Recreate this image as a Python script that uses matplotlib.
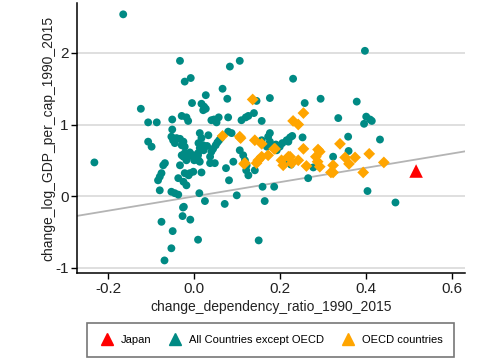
import numpy as np
import matplotlib
matplotlib.use("Agg")
import matplotlib.pyplot as plt
from matplotlib.lines import Line2D

plt.rcParams['font.family'] = ['Liberation Sans', 'DejaVu Sans']

# All countries except OECD: (change_dependency_ratio, change_log_GDP_per_cap)
other_x = [-0.165, -0.232, 0.397, -0.033, 0.083, 0.106, -0.022, -0.008, 0.230, 0.066,
           0.077, 0.027, -0.124, -0.005, 0.017, 0.023, 0.027, 0.021, 0.145, 0.176,
           0.257, 0.294, 0.378, 0.335, 0.400, 0.409, 0.413, 0.395, 0.139, 0.157,
           0.110, 0.120, 0.126, 0.079, 0.057, 0.046, 0.040, 0.052, -0.107, -0.087,
           -0.051, -0.029, -0.018, -0.014, -0.051,
           -0.107, -0.099, -0.053, -0.049, -0.041, -0.033, -0.025, -0.029, -0.022, -0.045,
           0.013, 0.017, 0.010, 0.021, 0.013, 0.033, -0.022, -0.014, -0.025, -0.018,
           -0.002, 0.009, 0.006, 0.013, 0.037, 0.040, 0.044, 0.050, 0.054, 0.058,
           0.062, 0.048, 0.079, 0.087, 0.091, 0.074, 0.106, 0.114, 0.118, 0.122,
           0.121, 0.126, 0.141, 0.176, 0.180, 0.192, 0.199, 0.215, 0.219, 0.176,
           0.172, 0.223, 0.228, 0.252, 0.358, 0.432, 0.359, 0.323, 0.225, 0.277,
           0.265, 0.211,
           -0.068, -0.072, -0.076, -0.080, -0.084, -0.033, -0.022, -0.010, -0.002, -0.037,
           -0.025, -0.018, -0.013, 0.017, 0.081, -0.080, -0.053, -0.045, -0.037, 0.012,
           0.025, 0.071, 0.099, 0.159, 0.186, 0.164, 0.403, 0.468, -0.076, -0.050,
           -0.053, -0.069, -0.026, -0.027, -0.009, 0.009, 0.150, 0.000, 0.010, 0.037,
           -0.024, -0.029, -0.010, 0.002, 0.009, 0.022, 0.030, 0.157, 0.169, 0.190,
           0.205, 0.218]
other_y = [2.54, 0.47, 2.03, 1.89, 1.81, 1.89, 1.60, 1.65, 1.64, 1.50,
           1.36, 1.41, 1.22, 1.30, 1.29, 1.25, 1.22, 1.20, 1.33, 1.37,
           1.30, 1.36, 1.32, 1.09, 1.11, 1.07, 1.05, 1.01, 1.16, 1.05,
           1.06, 1.10, 1.12, 1.10, 1.10, 1.07, 1.06, 1.03, 1.03, 1.03,
           1.07, 1.12, 1.10, 1.05, 0.93,
           0.76, 0.69, 0.83, 0.78, 0.81, 0.80, 0.76, 0.71, 0.69, 0.74,
           0.88, 0.81, 0.74, 0.71, 0.67, 0.85, 0.60, 0.55, 0.55, 0.50,
           0.57, 0.60, 0.53, 0.48, 0.55, 0.62, 0.66, 0.71, 0.75, 0.78,
           0.81, 0.46, 0.90, 0.88, 0.48, 0.39, 0.64, 0.57, 0.50, 0.43,
           0.36, 0.29, 0.36, 0.76, 0.69, 0.64, 0.69, 0.78, 0.76, 0.88,
           0.83, 0.82, 0.84, 0.82, 0.83, 0.79, 0.63, 0.55, 0.44, 0.40,
           0.25, 0.48,
           0.46, 0.43, 0.32, 0.27, 0.22, 0.43, 0.32, 0.32, 0.34, 0.25,
           0.20, 0.15, 0.29, 0.33, 0.22, 0.08, 0.06, 0.04, 0.02, 0.04,
           -0.07, -0.11, 0.01, 0.13, 0.13, -0.07, 0.07, -0.09, -0.36, -0.49,
           -0.73, -0.90, -0.16, -0.28, -0.33, -0.61, -0.62, 0.50, 0.50, 0.46,
           -0.15, 0.57, 0.61, 0.55, 0.57, 0.64, 0.70, 0.78, 0.69, 0.72,
           0.74, 0.78]

# OECD countries
oecd_x = [0.136, 0.254, 0.230, 0.242, 0.106, 0.141, 0.157, 0.339, 0.254, 0.288,
          0.407, 0.374, 0.188, 0.172, 0.157, 0.149, 0.145, 0.118, 0.203, 0.207,
          0.223, 0.227, 0.242, 0.261, 0.283, 0.292, 0.323, 0.318, 0.360, 0.393,
          0.441, 0.066, 0.108, 0.116, 0.186, 0.219, 0.287, 0.323, 0.292, 0.351]
oecd_y = [1.35, 1.16, 1.05, 1.00, 0.83, 0.78, 0.73, 0.73, 0.66, 0.65,
          0.59, 0.54, 0.66, 0.57, 0.55, 0.50, 0.46, 0.46, 0.50, 0.43,
          0.55, 0.46, 0.50, 0.42, 0.55, 0.41, 0.43, 0.33, 0.45, 0.33,
          0.47, 0.84, 0.81, 0.45, 0.66, 0.55, 0.48, 0.33, 0.62, 0.54]

japan_x = [0.516]
japan_y = [0.35]

# linear fit
fit_intercept = -0.005
fit_slope = 1.0

teal = '#008A84'
orange = '#FFA500'
red = '#FF0000'

fig = plt.figure(figsize=(4.98, 3.62), dpi=100)
ax = fig.add_axes([0.155, 0.245, 0.779, 0.747])

xlim = (-0.272, 0.63)
ylim = (-1.08, 2.70)

for yv in [-1, 0, 1, 2]:
    ax.axhline(yv, color='#d6d6d6', lw=1.1, zorder=0)

xs = np.array(xlim)
ax.plot(xs, fit_intercept + fit_slope * xs, color='#b4b4b4', lw=1.3, zorder=1)

ax.scatter(other_x, other_y, s=32, marker='o', color=teal, edgecolors='none', zorder=2)
ax.scatter(oecd_x, oecd_y, s=36, marker='D', color=orange, edgecolors='none', zorder=3)
ax.scatter(japan_x, japan_y, s=95, marker='^', color=red, edgecolors='none', zorder=4)

ax.set_xlim(*xlim)
ax.set_ylim(*ylim)
ax.set_xticks([-0.2, 0.0, 0.2, 0.4, 0.6])
ax.set_xticklabels(['-0.2', '0.0', '0.2', '0.4', '0.6'])
ax.set_yticks([-1, 0, 1, 2])
ax.set_yticklabels(['-1', '0', '1', '2'])
ax.tick_params(axis='both', direction='out', length=4, width=1, labelsize=11,
               colors='black', labelcolor='#222222', pad=2)
for side in ['top', 'right']:
    ax.spines[side].set_visible(False)
for side in ['left', 'bottom']:
    ax.spines[side].set_linewidth(1.1)

ax.set_xlabel('change_dependency_ratio_1990_2015', fontsize=10, color='#222222', labelpad=3)
ax.set_ylabel('change_log_GDP_per_cap_1990_2015', fontsize=10, color='#222222', labelpad=0)

handles = [
    Line2D([], [], marker='^', ls='none', color=red, markersize=9),
    Line2D([], [], marker='^', ls='none', color=teal, markersize=9),
    Line2D([], [], marker='^', ls='none', color=orange, markersize=9),
]
labels = ['Japan', 'All Countries except OECD', 'OECD countries']
leg = fig.legend(handles, labels, loc='center', bbox_to_anchor=(0.543, 0.061),
                 ncol=3, fontsize=8, frameon=True, fancybox=False,
                 handletextpad=0.5, columnspacing=1.4, borderpad=1.05,
                 handlelength=1.5)
leg.get_frame().set_edgecolor('#555555')
leg.get_frame().set_linewidth(1.2)

fig.savefig('out.png', dpi=100)
